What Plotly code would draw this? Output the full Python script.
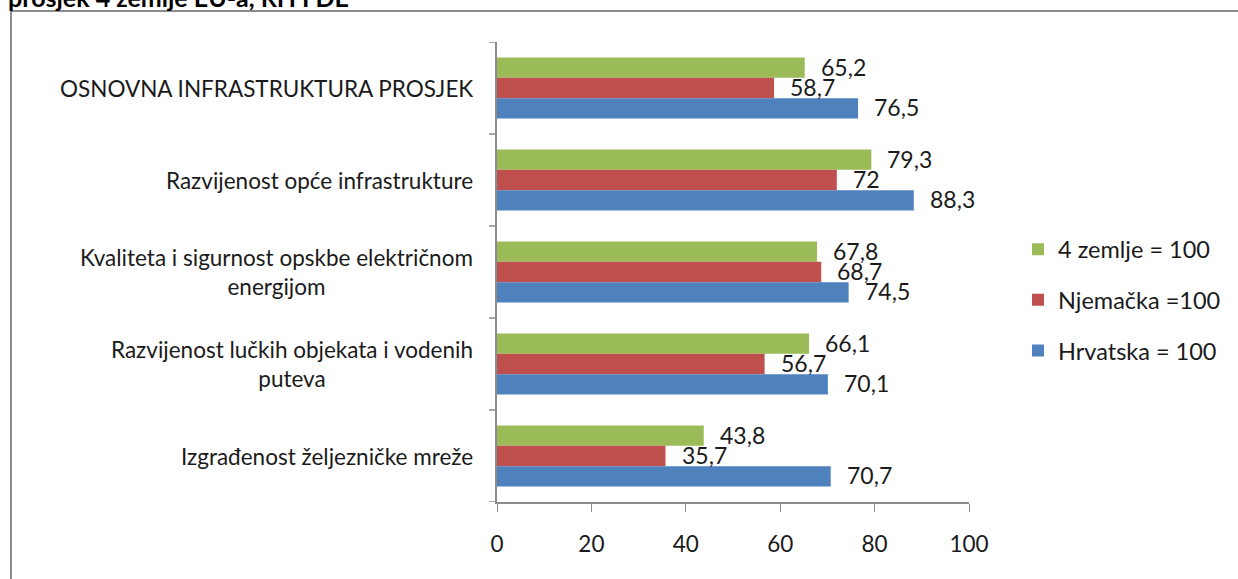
import plotly.graph_objects as go

categories = [
    "OSNOVNA INFRASTRUKTURA PROSJEK",
    "Razvijenost opće infrastrukture",
    "Kvaliteta i sigurnost opskbe električnom<br>energijom",
    "Razvijenost lučkih objekata i vodenih<br>puteva",
    "Izgrađenost željezničke mreže",
]
series_names = ["4 zemlje = 100", "Njemačka =100", "Hrvatska = 100"]
zemlje4 = [65.2, 79.3, 67.8, 66.1, 43.8]
njemacka = [58.7, 72, 68.7, 56.7, 35.7]
hrvatska = [76.5, 88.3, 74.5, 70.1, 70.7]
x_ticks = [0, 20, 40, 60, 80, 100]
title_text = "prosjek 4 zemlje EU-a, RH I DE"

series_values = [zemlje4, njemacka, hrvatska]
colors = ["#9BBB59", "#C0504D", "#4F81BD"]

FONT = "Lato"
W, H = 1238, 579
L, R, T, B = 497, 269, 42, 77
plot_w = W - L - R
plot_h = H - T - B
bargap = 0.335
bar_w = (1 - bargap) / 3

fig = go.Figure()
for name, vals, col in zip(series_names, series_values, colors):
    fig.add_trace(go.Bar(
        y=list(range(len(categories))), x=vals, name=name, orientation="h",
        marker=dict(color=col, line=dict(width=0)),
        legendgroup=name,
    ))

# value labels beside each bar end
annotations = []
for k, vals in enumerate(series_values):
    off = (k - 1) * bar_w
    for i, v in enumerate(vals):
        txt = f"{v:g}".replace(".", ",")
        annotations.append(dict(
            x=v, y=i + off, xref="x", yref="y", text=txt, showarrow=False,
            xanchor="left", yanchor="middle", xshift=14, yshift=1,
            font=dict(family=FONT, size=23, color="#1a1a1a"),
        ))

# category labels, centered lines, right-aligned block next to the axis
for i, c in enumerate(categories):
    annotations.append(dict(
        x=0, y=i, xref="paper", yref="y", text=c, showarrow=False,
        xanchor="right", yanchor="middle", align="center", xshift=-22,
        font=dict(family=FONT, size=22.5, color="#1a1a1a"),
    ))

# chart title, partly above the page
annotations.append(dict(
    x=(6 - L) / plot_w, y=(H - B - 14) / plot_h, xref="paper", yref="paper",
    text="<b>" + title_text + "</b>", showarrow=False,
    xanchor="left", yanchor="bottom",
    font=dict(family=FONT, size=25, color="#000000"),
))

shapes = [
    # outer chart frame
    dict(type="rect", xref="paper", yref="paper",
         x0=(11 - L) / plot_w, x1=(W + 5 - L) / plot_w,
         y0=(H - B - (H + 5)) / plot_h, y1=(H - B - 11) / plot_h,
         line=dict(color="#8c8c8c", width=2), fillcolor="rgba(0,0,0,0)"),
]
# category separator ticks on the value axis
for j in range(len(categories) + 1):
    yy = j - 0.5
    shapes.append(dict(type="line", xref="paper", yref="y",
                       x0=-8 / plot_w, x1=0, y0=yy, y1=yy,
                       line=dict(color="#8c8c8c", width=1.5)))

fig.update_layout(
    width=W, height=H,
    margin=dict(l=L, r=R, t=T, b=B, autoexpand=False),
    paper_bgcolor="white", plot_bgcolor="white",
    barmode="group", bargap=bargap, bargroupgap=0,
    font=dict(family=FONT, size=22, color="#1a1a1a"),
    xaxis=dict(
        range=[0, 100], tickvals=x_ticks, ticks="outside", ticklen=8,
        tickcolor="#8c8c8c", showline=True, linecolor="#8c8c8c", linewidth=1.5,
        showgrid=False, zeroline=False, ticklabelstandoff=13,
        tickfont=dict(family=FONT, size=22.5, color="#1a1a1a"),
    ),
    yaxis=dict(
        range=[len(categories) - 0.5, -0.5], showticklabels=False, ticks="",
        showline=True, linecolor="#8c8c8c", linewidth=1.5,
        showgrid=False, zeroline=False,
    ),
    legend=dict(
        x=(1018 - L) / plot_w, y=(H - B - 300) / plot_h,
        xanchor="left", yanchor="middle",
        font=dict(family=FONT, size=23.5, color="#1a1a1a"),
        tracegroupgap=17, traceorder="grouped", bgcolor="rgba(0,0,0,0)",
    ),
    annotations=annotations, shapes=shapes,
)

fig.write_html("out.html")
